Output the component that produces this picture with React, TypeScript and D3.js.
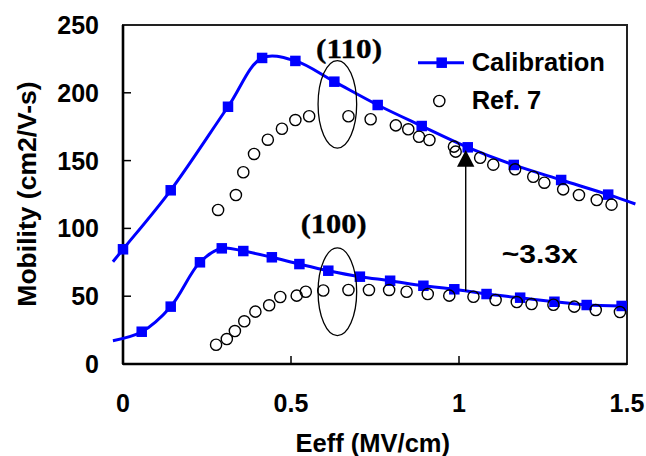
import React from "react";
import * as d3 from "d3";

// ---- data ----
const xTicks = [0, 0.5, 1, 1.5];
const yTicks = [0, 50, 100, 150, 200, 250];

// Calibration (110) squares
const cal110X = [0, 0.142, 0.3125, 0.414, 0.513, 0.629, 0.758, 0.889, 1.026, 1.163, 1.304, 1.444];
const cal110Y = [84.6, 128.1, 189.7, 225.7, 223.5, 208.2, 191, 175.5, 159.8, 146.8, 135.7, 124.9];
// Calibration curve ends beyond the squares (110)
const cal110LineStart = [-0.03, 75.4];
const cal110LineEnd = [1.525, 118];

// Calibration (100) squares
const cal100X = [0.0557, 0.142, 0.229, 0.294, 0.358, 0.443, 0.525, 0.611, 0.705, 0.795, 0.894, 0.986, 1.082, 1.182, 1.284, 1.38, 1.484];
const cal100Y = [23.8, 42.3, 75, 85.3, 83.3, 78.7, 73.7, 68.8, 64.4, 61.4, 57.7, 55.1, 51.6, 48.9, 45.9, 43.5, 42.8];
const cal100LineStart = [-0.03, 17.2];

// Ref. 7 (110) circles
const ref110X = [0.283, 0.336, 0.358, 0.39, 0.431, 0.473, 0.513, 0.554, 0.671, 0.737, 0.812, 0.849, 0.881, 0.912, 0.985, 0.99, 1.063, 1.102, 1.167, 1.221, 1.254, 1.31, 1.357, 1.41, 1.454];
const ref110Y = [113.6, 124.6, 141.4, 154.9, 165.4, 173.5, 179.9, 182.7, 182.7, 180.5, 176, 173.1, 167.6, 165.2, 160.3, 156.6, 152.1, 147, 143.6, 138.1, 133.7, 128.8, 124.6, 120.9, 117.5];

// Ref. 7 (100) circles
const ref100X = [0.277, 0.309, 0.333, 0.361, 0.394, 0.435, 0.468, 0.517, 0.544, 0.596, 0.671, 0.732, 0.792, 0.844, 0.907, 0.971, 1.043, 1.109, 1.172, 1.216, 1.281, 1.343, 1.407, 1.479];
const ref100Y = [14.2, 18.4, 24.3, 31.5, 38.6, 43.3, 49.4, 50.4, 53.3, 54.2, 54.6, 54.6, 54.6, 53.3, 51.6, 50.4, 49.6, 47.2, 45.7, 44.2, 43.7, 42.3, 39.8, 38.3];

// annotations (data coordinates)
const ellipseCentersX = [0.638, 0.638];
const ellipseCentersY = [191.5, 53.3];
const orientLabels = ["(110)", "(100)"];
const orientLabelX = [0.673, 0.627];
const orientLabelY = [225.7, 96.6];
const arrowX = 1.02;
const arrowFromY = 53.8;
const arrowToY = 157.8;
const ratioLabel = "~3.3x";
const ratioLabelX = 1.127;
const ratioLabelY = 74.3;

const legendLabels = ["Calibration", "Ref. 7"];

// ---- layout ----
const W = 646;
const H = 456;
const L = 123, R = 627, T = 25, B = 364;
const BLUE = "#0000FF";
const SANS = "'Liberation Sans', Arial, sans-serif";
const SERIF = "'Liberation Serif', 'Times New Roman', serif";

export default function App() {
  const x = d3.scaleLinear().domain([0, 1.5]).range([L, R]);
  const y = d3.scaleLinear().domain([0, 250]).range([B, T]);

  const line = d3
    .line<number[]>()
    .x((d) => x(d[0]))
    .y((d) => y(d[1]))
    .curve(d3.curveCatmullRom.alpha(0.5));

  const c110 = cal110X.map((v, i) => [v, cal110Y[i]]);
  const c100 = cal100X.map((v, i) => [v, cal100Y[i]]);
  const r110 = ref110X.map((v, i) => [v, ref110Y[i]]);
  const r100 = ref100X.map((v, i) => [v, ref100Y[i]]);

  const path110 = line([cal110LineStart, ...c110, cal110LineEnd]) || "";
  const path100 = line([cal100LineStart, ...c100]) || "";

  const sq = 10.5;
  const cr = 5.6;

  const ax = x(arrowX);
  const tipY = y(arrowToY);

  return (
    <svg
      width={W}
      height={H}
      style={{ position: "absolute", left: 0, top: 0, background: "#fff" }}
    >
      <rect x={0} y={0} width={W} height={H} fill="#fff" />

      {/* frame */}
      <rect x={L} y={T} width={R - L} height={B - T} fill="none" stroke="#222" strokeWidth={2} />
      <line x1={L} y1={T} x2={L} y2={B} stroke="#000" strokeWidth={2.6} />
      <line x1={L} y1={B} x2={R} y2={B} stroke="#000" strokeWidth={2.6} />

      {/* y ticks */}
      {yTicks.map((t) => (
        <g key={"y" + t}>
          {t > 0 && t < 250 && (
            <line x1={L} x2={L + 8} y1={y(t)} y2={y(t)} stroke="#000" strokeWidth={1.5} />
          )}
          <text
            x={99}
            y={y(t) + 9}
            textAnchor="end"
            fontFamily={SANS}
            fontWeight="bold"
            fontSize={25}
            fill="#000"
          >
            {t}
          </text>
        </g>
      ))}

      {/* x ticks */}
      {xTicks.map((t) => (
        <g key={"x" + t}>
          {t > 0 && t < 1.5 && (
            <line x1={x(t)} x2={x(t)} y1={B} y2={B - 8} stroke="#000" strokeWidth={1.5} />
          )}
          <text
            x={x(t)}
            y={412}
            textAnchor="middle"
            fontFamily={SANS}
            fontWeight="bold"
            fontSize={25}
            fill="#000"
          >
            {t}
          </text>
        </g>
      ))}

      {/* axis titles */}
      <text
        x={372.8}
        y={451.7}
        textAnchor="middle"
        fontFamily={SANS}
        fontWeight="bold"
        fontSize={25.5}
        fill="#000"
      >
        Eeff (MV/cm)
      </text>
      <text
        transform="translate(36,194) rotate(-90)"
        textAnchor="middle"
        fontFamily={SANS}
        fontWeight="bold"
        fontSize={26.5}
        fill="#000"
      >
        Mobility (cm2/V-s)
      </text>

      {/* calibration curves */}
      <path d={path110} fill="none" stroke={BLUE} strokeWidth={3} />
      <path d={path100} fill="none" stroke={BLUE} strokeWidth={3} />
      {[...c110, ...c100].map((d, i) => (
        <rect
          key={"s" + i}
          x={x(d[0]) - sq / 2}
          y={y(d[1]) - sq / 2}
          width={sq}
          height={sq}
          fill={BLUE}
        />
      ))}

      {/* Ref. 7 circles */}
      {[...r110, ...r100].map((d, i) => (
        <circle
          key={"c" + i}
          cx={x(d[0])}
          cy={y(d[1])}
          r={cr}
          fill="none"
          stroke="#000"
          strokeWidth={1.4}
        />
      ))}

      {/* ellipses */}
      {ellipseCentersX.map((cx, i) => (
        <ellipse
          key={"e" + i}
          cx={x(cx)}
          cy={y(ellipseCentersY[i])}
          rx={19.3}
          ry={43.8}
          fill="none"
          stroke="#000"
          strokeWidth={1.3}
        />
      ))}

      {/* orientation labels */}
      {orientLabels.map((s, i) => (
        <text
          key={"o" + i}
          x={x(orientLabelX[i])}
          y={y(orientLabelY[i])}
          textAnchor="middle"
          fontFamily={SERIF}
          fontWeight="bold"
          fontSize={27.5}
          textLength={66}
          lengthAdjust="spacingAndGlyphs"
          fill="#000"
          stroke="#000"
          strokeWidth={0.3}
        >
          {s}
        </text>
      ))}

      {/* arrow */}
      <line x1={ax} x2={ax} y1={y(arrowFromY)} y2={tipY + 14} stroke="#000" strokeWidth={1.4} />
      <path
        d={`M${ax},${tipY} L${ax - 8.7},${tipY + 16.7} L${ax + 8.7},${tipY + 16.7} Z`}
        fill="#000"
      />
      <text
        x={x(ratioLabelX)}
        y={y(ratioLabelY)}
        fontFamily={SANS}
        fontWeight="bold"
        fontSize={26}
        textLength={76}
        lengthAdjust="spacingAndGlyphs"
        fill="#000"
      >
        {ratioLabel}
      </text>

      {/* legend */}
      <line x1={418} x2={464} y1={62.7} y2={62.7} stroke={BLUE} strokeWidth={3} />
      <rect x={441.7 - sq / 2} y={62.7 - sq / 2} width={sq} height={sq} fill={BLUE} />
      <text x={471.7} y={70.7} fontFamily={SANS} fontWeight="bold" fontSize={25.5} fill="#000">
        {legendLabels[0]}
      </text>
      <circle cx={439.3} cy={101} r={cr} fill="none" stroke="#000" strokeWidth={1.4} />
      <text x={471.7} y={109.3} fontFamily={SANS} fontWeight="bold" fontSize={25.5} fill="#000">
        {legendLabels[1]}
      </text>
    </svg>
  );
}
